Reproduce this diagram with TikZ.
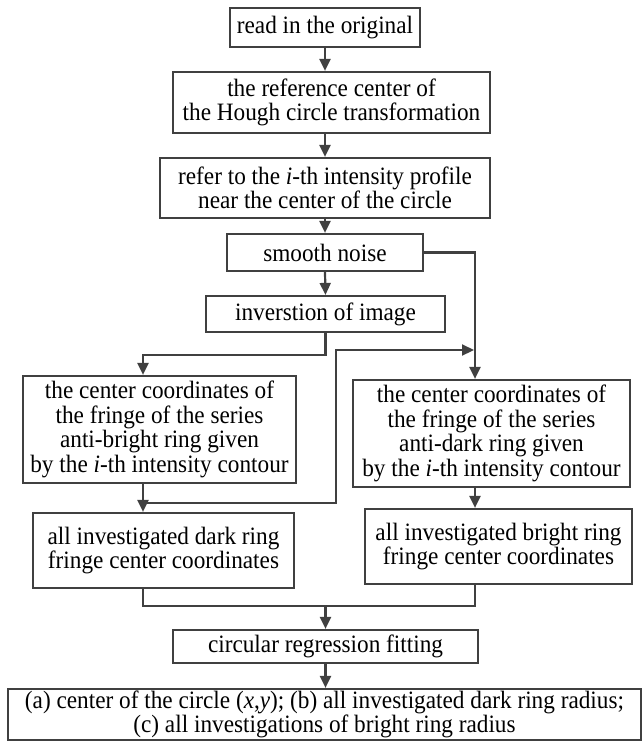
\documentclass[tikz,border=0pt]{standalone}
\usepackage{fontspec}
\setmainfont[FakeStretch=0.93]{Liberation Serif}
\usetikzlibrary{arrows.meta, positioning}
\definecolor{linegray}{RGB}{64, 64, 64}

\begin{document}
\begin{tikzpicture}[x=1pt, y=-1pt,
    box/.style={draw=linegray, line width=2.2pt, inner sep=0pt, align=center,
        font=\fontsize{25}{24.5}\selectfont},
    arr/.style={draw=linegray, line width=2.2pt, -{Triangle[length=12pt, width=11pt]}},
    link/.style={draw=linegray, line width=2.2pt}]
    \useasboundingbox (0,0) rectangle (642,742);

    % Khung chính, cột giữa
    \node[box, minimum width=190, minimum height=39] (read) at (325,27.5) {read in the original};
    \node[box, minimum width=317, minimum height=61] (ref) at (331.5,102.5) {the reference center of\\the Hough circle transformation};
    \node[box, minimum width=330, minimum height=60] (refer) at (325,188) {refer to the \textit{i}-th intensity profile\\near the center of the circle};
    \node[box, minimum width=196, minimum height=37] (smooth) at (325,252.5) {smooth noise};
    \node[box, minimum width=239, minimum height=36] (inv) at (325.5,314) {inverstion of image};

    % Hai cột trái và phải
    \node[box, minimum width=273, minimum height=107] (lbox) at (159.5,429.5) {the center coordinates of\\the fringe of the series\\anti-bright ring given\\by the \textit{i}-th intensity contour};
    \node[box, minimum width=277, minimum height=107] (rbox) at (491.5,433.5) {the center coordinates of\\the fringe of the series\\anti-dark ring given\\by the \textit{i}-th intensity contour};
    \node[box, minimum width=261, minimum height=75] (dark) at (163.5,550.5) {all investigated dark ring\\fringe center coordinates};
    \node[box, minimum width=267, minimum height=75] (bright) at (498.5,546.5) {all investigated bright ring\\fringe center coordinates};

    % Hai khung cuối
    \node[box, minimum width=305, minimum height=33] (fit) at (325.5,646.5) {circular regression fitting};
    \node[box, minimum width=633, minimum height=51] (result) at (324.5,714.5) {(a) center of the circle (\textit{x},\textit{y}); (b) all investigated dark ring radius;\\(c) all investigations of bright ring radius};

    % Các điểm gấp khúc
    \coordinate (lcol) at (143,355);
    \coordinate (rcol) at (475,252.5);
    \coordinate (back) at (336,503);
    \coordinate (backtop) at (336,350);
    \coordinate (merge) at (325.5,606);

    % Mũi tên cột giữa
    \draw[arr] (read.south) -- (read.south |- ref.north);
    \draw[arr] (read.south |- ref.south) -- (read.south |- refer.north);
    \draw[arr] (refer.south) -- (smooth.north);
    \draw[arr] (smooth.south) -- (inv.north);

    % Rẽ nhánh trái, phải
    \draw[arr] (inv.south) |- (lcol) -- (lcol |- lbox.north);
    \draw[arr] (smooth.east) -- (rcol) -- (rcol |- rbox.north);
    \draw[arr] (lcol |- lbox.south) -- (lcol |- dark.north);
    \draw[arr] (lcol |- back) -- (back) -- (backtop) -- ([xshift=-1pt]rcol |- backtop);
    \draw[arr] (rcol |- rbox.south) -- (rcol |- bright.north);

    % Gộp lại
    \draw[link] (lcol |- dark.south) |- (merge) -| (rcol |- bright.south);
    \draw[arr] (merge) -- (fit.north);
    \draw[arr] (fit.south) -- (fit.south |- result.north);
\end{tikzpicture}
\end{document}
